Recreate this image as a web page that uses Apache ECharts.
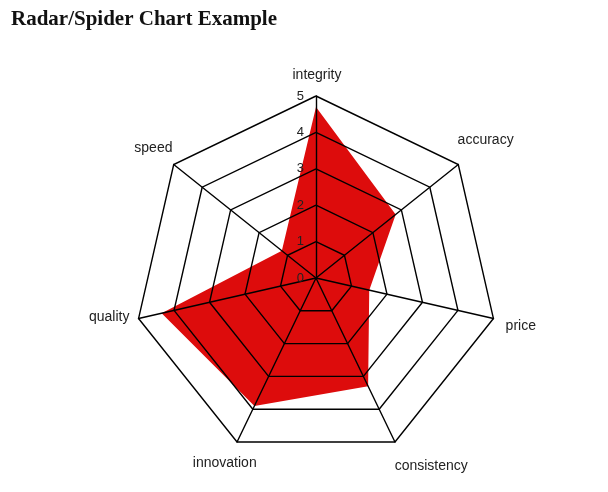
<!DOCTYPE html>
<html><head><meta charset="utf-8">
<script src="https://cdn.jsdelivr.net/npm/echarts@6/dist/echarts.min.js"></script>
<style>html,body{margin:0;padding:0;background:#fff}#c{width:608px;height:492px}</style>
</head><body><div id="c"></div>
<script>
// Indicators listed counter-clockwise from the top (ECharts radar order)
const axisNames = ['integrity', 'speed', 'quality', 'innovation', 'consistency', 'price', 'accuracy'];
const seriesValues = [4.7, 1.2, 4.35, 3.9, 3.3, 1.5, 2.8];
const tickLabels = ['0', '1', '2', '3', '4', '5'];
const scaleMax = 5;

// label nudges (style only): [dx, dy] in px, same order as axisNames
const nameNudge = [[1, 5], [0, 0], [-4, -7], [-1, -2], [25, 1], [2, 2], [7, -8]];
const rich = {};
axisNames.forEach((n, i) => {
  const [dx, dy] = nameNudge[i];
  rich['n' + i] = {
    color: '#222', fontFamily: 'Liberation Sans', fontSize: 14,
    padding: [Math.max(0, 2 * dy), Math.max(0, -2 * dx), Math.max(0, -2 * dy), Math.max(0, 2 * dx)]
  };
});

const chart = echarts.init(document.getElementById('c'), null, {renderer: 'canvas'});
chart.setOption({
  animation: false,
  backgroundColor: '#ffffff',
  title: {
    text: 'Radar/Spider Chart Example',
    left: 6, top: 4,
    textStyle: {fontFamily: 'Liberation Serif', fontWeight: 'bold', fontSize: 21, color: '#111'}
  },
  grid: {left: 316, top: 96, width: 1, height: 182},
  xAxis: {type: 'value', show: false},
  yAxis: {
    type: 'value', min: 0, max: scaleMax, interval: 1, z: 10,
    axisLine: {show: false}, axisTick: {show: false}, splitLine: {show: false},
    axisLabel: {
      margin: 12, color: '#222', fontFamily: 'Liberation Sans', fontSize: 13,
      formatter: v => tickLabels[Math.round(v)]
    }
  },
  radar: {
    z: 5,
    center: [316, 278],
    radius: 182,
    startAngle: 90,
    shape: 'polygon',
    splitNumber: 5,
    nameGap: 26,
    axisName: {
      color: '#222', fontFamily: 'Liberation Sans', fontSize: 14,
      align: 'center', verticalAlign: 'middle',
      formatter: (name) => '{n' + axisNames.indexOf(name) + '|' + name + '}',
      rich: rich
    },
    indicator: axisNames.map(n => ({name: n, min: 0, max: scaleMax})),
    axisLine: {lineStyle: {color: '#000', width: 1.4}},
    splitLine: {lineStyle: {color: '#000', width: 1.4}},
    splitArea: {show: false}
  },
  series: [{
    type: 'radar',
    symbol: 'none',
    z: 1,
    lineStyle: {width: 0, color: '#dd0c0c'},
    areaStyle: {color: '#dd0c0c', opacity: 1},
    data: [{value: seriesValues}]
  }]
});
</script></body></html>
